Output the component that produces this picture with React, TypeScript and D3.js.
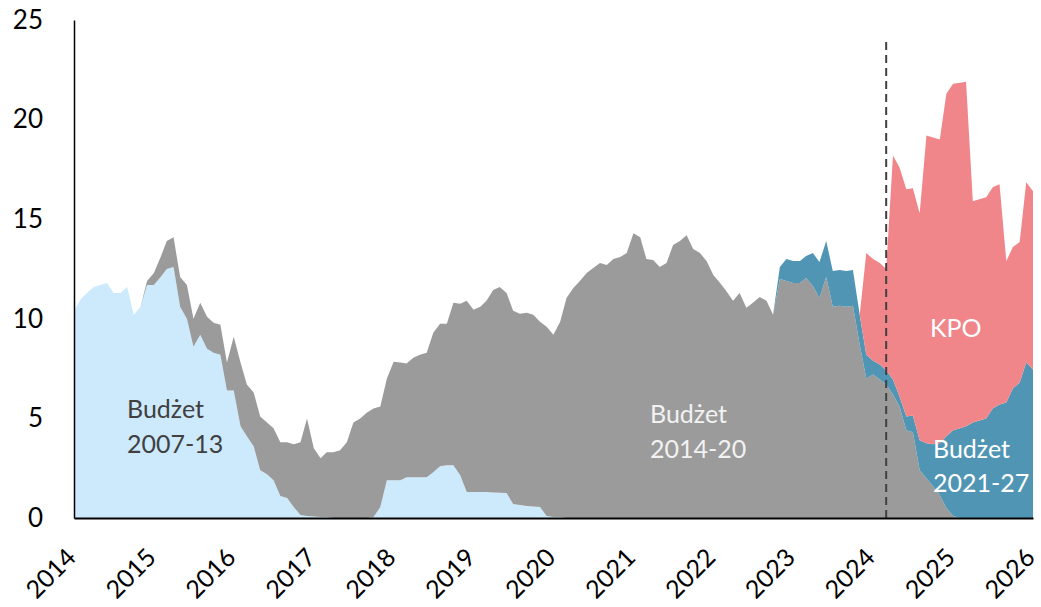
import * as d3 from 'd3';
import React, { useEffect, useRef } from 'react';

// monthly values, 2014-01 .. 2026-01 (one row per year)
const budzet0713 = [
  10.4, 11.0, 11.3, 11.6, 11.7, 11.8, 11.3, 11.3, 11.6, 10.2, 10.6, 11.7,
  11.7, 12.1, 12.5, 12.6, 10.6, 10.0, 8.6, 9.2, 8.5, 8.3, 8.2, 6.4,
  6.4, 4.6, 4.1, 3.6, 2.4, 2.2, 1.9, 1.1, 1.0, 0.55, 0.15, 0.1,
  0.08, 0.05, 0.05, 0, 0, 0, 0, 0, 0, 0.05, 0.55, 1.9,
  1.9, 1.9, 2.05, 2.05, 2.05, 2.05, 2.3, 2.6, 2.65, 2.65, 2.15, 1.3,
  1.3, 1.3, 1.3, 1.28, 1.27, 1.25, 0.7, 0.65, 0.6, 0.58, 0.55, 0.1,
  0.05, 0.05, 0, 0, 0, 0, 0, 0, 0, 0, 0, 0,
  0, 0, 0, 0, 0, 0, 0, 0, 0, 0, 0, 0,
  0, 0, 0, 0, 0, 0, 0, 0, 0, 0, 0, 0,
  0, 0, 0, 0, 0, 0, 0, 0, 0, 0, 0, 0,
  0, 0, 0, 0, 0, 0, 0, 0, 0, 0, 0, 0,
  0, 0, 0, 0, 0, 0, 0, 0, 0, 0, 0, 0,
  0,
];

const budzet1420 = [
  0, 0, 0, 0, 0, 0, 0, 0, 0, 0, 0, 0.2,
  0.6, 1.0, 1.4, 1.5, 1.5, 1.7, 1.4, 1.6, 1.6, 1.5, 1.5, 1.4,
  2.7, 3.2, 2.6, 2.7, 2.7, 2.6, 2.6, 2.7, 2.8, 3.15, 3.65, 4.9,
  3.42, 2.95, 3.25, 3.3, 3.4, 3.8, 4.8, 5.0, 5.3, 5.45, 5.05, 5.1,
  5.95, 5.9, 5.7, 6.0, 6.15, 6.25, 7.0, 7.15, 7.1, 8.15, 8.6, 9.6,
  9.15, 9.3, 9.6, 10.17, 10.33, 10.05, 9.7, 9.6, 9.7, 9.62, 9.3, 9.5,
  9.15, 9.8, 11.05, 11.55, 11.9, 12.3, 12.55, 12.8, 12.7, 13.0, 13.1, 13.3,
  14.3, 14.1, 13.0, 12.95, 12.6, 12.8, 13.7, 13.9, 14.2, 13.5, 13.3, 12.9,
  12.2, 11.8, 11.4, 10.9, 11.3, 10.55, 10.8, 11.1, 10.9, 10.2, 12.0, 11.9,
  11.8, 11.8, 12.05, 11.65, 11.05, 12.1, 10.6, 10.65, 10.6, 10.65, 8.7, 7.0,
  7.2, 6.95, 6.7, 6.2, 5.6, 4.4, 4.3, 2.4, 2.0, 1.6, 1.15, 0.5,
  0.1, 0, 0, 0, 0, 0, 0, 0, 0, 0, 0, 0,
  0,
];

const budzet2127 = [
  0, 0, 0, 0, 0, 0, 0, 0, 0, 0, 0, 0,
  0, 0, 0, 0, 0, 0, 0, 0, 0, 0, 0, 0,
  0, 0, 0, 0, 0, 0, 0, 0, 0, 0, 0, 0,
  0, 0, 0, 0, 0, 0, 0, 0, 0, 0, 0, 0,
  0, 0, 0, 0, 0, 0, 0, 0, 0, 0, 0, 0,
  0, 0, 0, 0, 0, 0, 0, 0, 0, 0, 0, 0,
  0, 0, 0, 0, 0, 0, 0, 0, 0, 0, 0, 0,
  0, 0, 0, 0, 0, 0, 0, 0, 0, 0, 0, 0,
  0, 0, 0, 0, 0, 0, 0, 0, 0, 0, 0.6, 1.1,
  1.1, 1.1, 1.1, 1.65, 1.8, 1.8, 1.8, 1.8, 1.8, 1.8, 1.5, 1.2,
  0.7, 0.75, 0.7, 0.75, 0.5, 0.7, 0.85, 1.5, 1.75, 2.1, 2.6, 3.6,
  4.3, 4.5, 4.6, 4.8, 4.9, 5.0, 5.5, 5.7, 5.8, 6.5, 6.8, 7.8,
  7.45,
];

const kpo = [
  0, 0, 0, 0, 0, 0, 0, 0, 0, 0, 0, 0,
  0, 0, 0, 0, 0, 0, 0, 0, 0, 0, 0, 0,
  0, 0, 0, 0, 0, 0, 0, 0, 0, 0, 0, 0,
  0, 0, 0, 0, 0, 0, 0, 0, 0, 0, 0, 0,
  0, 0, 0, 0, 0, 0, 0, 0, 0, 0, 0, 0,
  0, 0, 0, 0, 0, 0, 0, 0, 0, 0, 0, 0,
  0, 0, 0, 0, 0, 0, 0, 0, 0, 0, 0, 0,
  0, 0, 0, 0, 0, 0, 0, 0, 0, 0, 0, 0,
  0, 0, 0, 0, 0, 0, 0, 0, 0, 0, 0, 0,
  0, 0, 0, 0, 0, 0, 0, 0, 0, 0, 0, 5.1,
  5.1, 5.1, 5.1, 11.25, 11.5, 11.4, 11.4, 11.4, 15.45, 15.4, 15.25, 17.2,
  17.4, 17.35, 17.3, 11.1, 11.1, 11.1, 11.1, 11.05, 7.1, 7.1, 7.05, 9.05,
  8.95,
];

const keys = ['b0713', 'b1420', 'b2127', 'kpo'];
const colors = ['#cdeafc', '#9b9b9b', '#5096b4', '#f0868a'];
const yTicks = [0, 5, 10, 15, 20, 25];
const years = [2014, 2015, 2016, 2017, 2018, 2019, 2020, 2021, 2022, 2023, 2024, 2025, 2026];
const cutoff = new Date(2024, 2, 1);

const W = 1041;
const H = 607;

export default function App() {
  const ref = useRef(null);

  useEffect(() => {
    const svg = d3.select(ref.current);
    svg.selectAll('*').remove();

    const table = budzet0713.map((v, i) => ({
      date: new Date(2014, i, 1),
      b0713: v,
      b1420: budzet1420[i],
      b2127: budzet2127[i],
      kpo: kpo[i],
    }));

    const x = d3.scaleTime()
      .domain([new Date(2014, 0, 1), new Date(2026, 0, 1)])
      .range([74, 1033]);
    const y = d3.scaleLinear().domain([0, 25]).range([518, 20]);

    const series = d3.stack().keys(keys)(table);
    const area = d3.area()
      .x(d => x(d.data.date))
      .y0(d => y(d[0]))
      .y1(d => y(d[1]));

    svg.append('g')
      .selectAll('path')
      .data(series)
      .enter()
      .append('path')
      .attr('d', area)
      .attr('fill', (d, i) => colors[i]);

    // dashed marker
    svg.append('line')
      .attr('x1', x(cutoff)).attr('x2', x(cutoff))
      .attr('y1', y(23.9)).attr('y2', y(0))
      .attr('stroke', '#404040')
      .attr('stroke-width', 2)
      .attr('stroke-dasharray', '8,5');

    const font = 'Lato, "Open Sans", sans-serif';

    const yAxis = svg.append('g')
      .attr('transform', 'translate(74,0)')
      .call(d3.axisLeft(y).tickValues(yTicks).tickSize(0).tickPadding(31));
    yAxis.select('.domain').attr('stroke', '#000').attr('stroke-width', 1.5);
    yAxis.selectAll('text')
      .attr('font-family', font)
      .attr('font-size', 26)
      .attr('fill', '#000');

    const xAxis = svg.append('g')
      .attr('transform', 'translate(0,518)')
      .call(d3.axisBottom(x)
        .tickValues(years.map(yr => new Date(yr, 0, 1)))
        .tickSize(0)
        .tickFormat(d3.timeFormat('%Y')));
    xAxis.select('.domain').attr('stroke', '#000').attr('stroke-width', 2);
    xAxis.selectAll('text')
      .attr('font-family', font)
      .attr('font-size', 25)
      .attr('fill', '#000')
      .attr('y', null)
      .attr('dy', null)
      .attr('dominant-baseline', 'central')
      .attr('text-anchor', 'end')
      .attr('transform', 'translate(-4,34) rotate(-45)');

    const labels = [
      { text: 'Budżet', x: 127, y: 418, fill: '#404040' },
      { text: '2007-13', x: 127, y: 453, fill: '#404040' },
      { text: 'Budżet', x: 650, y: 423, fill: '#f2f2f2' },
      { text: '2014-20', x: 650, y: 458, fill: '#f2f2f2' },
      { text: 'KPO', x: 930, y: 337, fill: '#ffffff' },
      { text: 'Budżet', x: 933, y: 458, fill: '#ffffff' },
      { text: '2021-27', x: 933, y: 492, fill: '#ffffff' },
    ];
    svg.append('g')
      .selectAll('text')
      .data(labels)
      .enter()
      .append('text')
      .attr('x', d => d.x)
      .attr('y', d => d.y)
      .attr('fill', d => d.fill)
      .attr('font-family', font)
      .attr('font-size', 25)
      .text(d => d.text);
  }, []);

  return (
    <div style={{ position: 'absolute', left: 0, top: 0 }}>
      <svg ref={ref} width={W} height={H} style={{ display: 'block', background: '#fff' }} />
    </div>
  );
}
